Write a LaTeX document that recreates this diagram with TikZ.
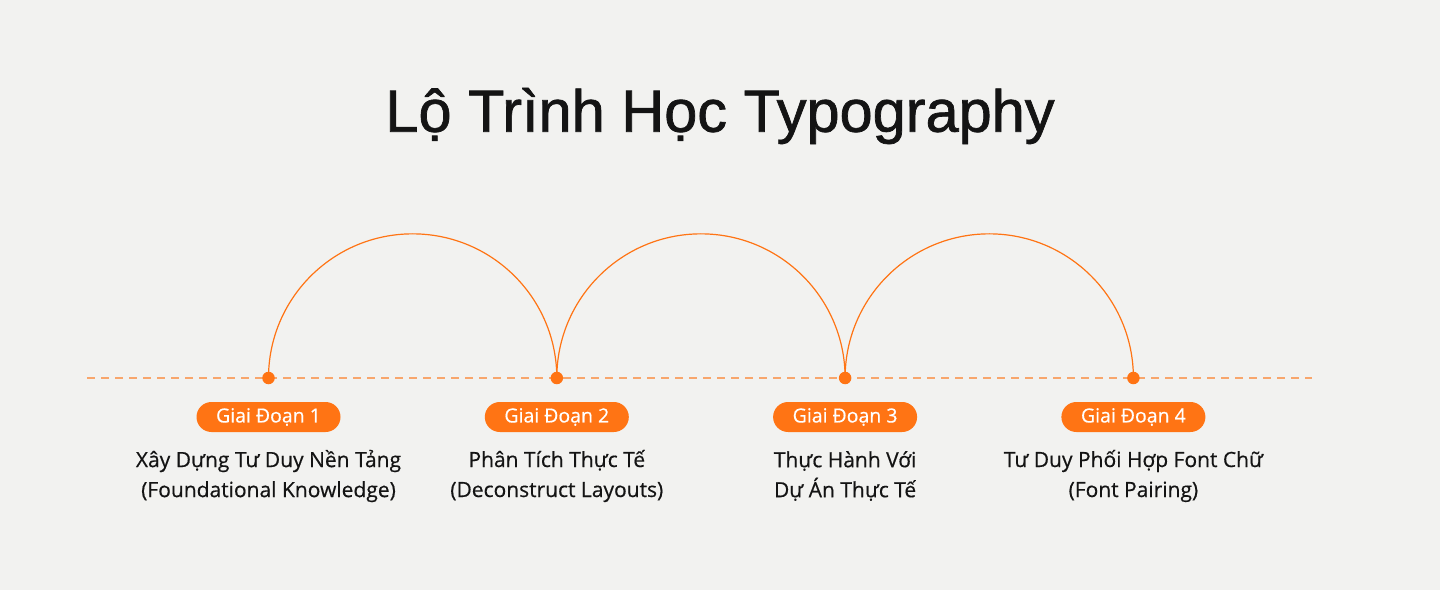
\documentclass[tikz,border=0pt]{standalone}
\usepackage{fontspec}
\setmainfont{Open Sans}[FakeBold=0.5]
\newfontfamily\titlefont{Liberation Sans}[FakeBold=1.2]
\usetikzlibrary{positioning}
\definecolor{paper}{HTML}{F2F2F0}
\definecolor{stageorange}{HTML}{FF7414}
\definecolor{dashorange}{HTML}{F8A66C}
\definecolor{inkblack}{HTML}{141414}

\begin{document}
\begin{tikzpicture}[x=1pt, y=1pt, node distance=288.3pt]
    \fill[paper] (0,0) rectangle (1440,590);
    \useasboundingbox (0,0) rectangle (1440,590);
    \node (title) at (720,474) {\titlefont\fontsize{59.5}{66}\selectfont\color{inkblack}Lộ Trình Học Typography};
    \coordinate (stop1) at (268.5,212);
    \coordinate[right=288.3pt of stop1] (stop2);
    \coordinate[right=288.3pt of stop2] (stop3);
    \coordinate[right=288.3pt of stop3] (stop4);
    \coordinate (lineL) at (87,212);
    \coordinate (lineR) at (1312,212);
    \draw [dashorange, line width=1.6pt, dash pattern=on 8pt off 6pt] (lineL) -- (lineR);
    \tikzstyle{bridge} = [stageorange, line width=1.2pt]
    \draw [bridge] (stop1) arc[start angle=180, end angle=0, radius=144.15];
    \draw [bridge] (stop2) arc[start angle=180, end angle=0, radius=144.15];
    \draw [bridge] (stop3) arc[start angle=180, end angle=0, radius=144.15];
    \tikzstyle{dot} = [circle, fill=stageorange, inner sep=0pt, minimum size=12.5pt]
    \node (dot1) [dot] at (stop1) {};
    \node (dot2) [dot] at (stop2) {};
    \node (dot3) [dot] at (stop3) {};
    \node (dot4) [dot] at (stop4) {};
    \tikzstyle{stage} = [rectangle, rounded corners=15pt, fill=stageorange, text=white, minimum width=144pt, minimum height=30pt, inner sep=0pt, font=\fontsize{19.5}{22}\selectfont]
    \node (stage1) [stage, below of=dot1, node distance=39pt] {Giai Đoạn 1};
    \node (stage2) [stage, below of=dot2, node distance=39pt] {Giai Đoạn 2};
    \node (stage3) [stage, below of=dot3, node distance=39pt] {Giai Đoạn 3};
    \node (stage4) [stage, below of=dot4, node distance=39pt] {Giai Đoạn 4};
    \tikzstyle{desc} = [align=center, text=inkblack, font=\fontsize{21}{30}\selectfont]
    \node (desc1) [desc, below of=stage1, node distance=59pt] {Xây Dựng Tư Duy Nền Tảng\\(Foundational Knowledge)};
    \node (desc2) [desc, below of=stage2, node distance=59pt] {Phân Tích Thực Tế\\(Deconstruct Layouts)};
    \node (desc3) [desc, below of=stage3, node distance=59pt] {Thực Hành Với\\Dự Án Thực Tế};
    \node (desc4) [desc, below of=stage4, node distance=59pt] {Tư Duy Phối Hợp Font Chữ\\(Font Pairing)};
\end{tikzpicture}
\end{document}
